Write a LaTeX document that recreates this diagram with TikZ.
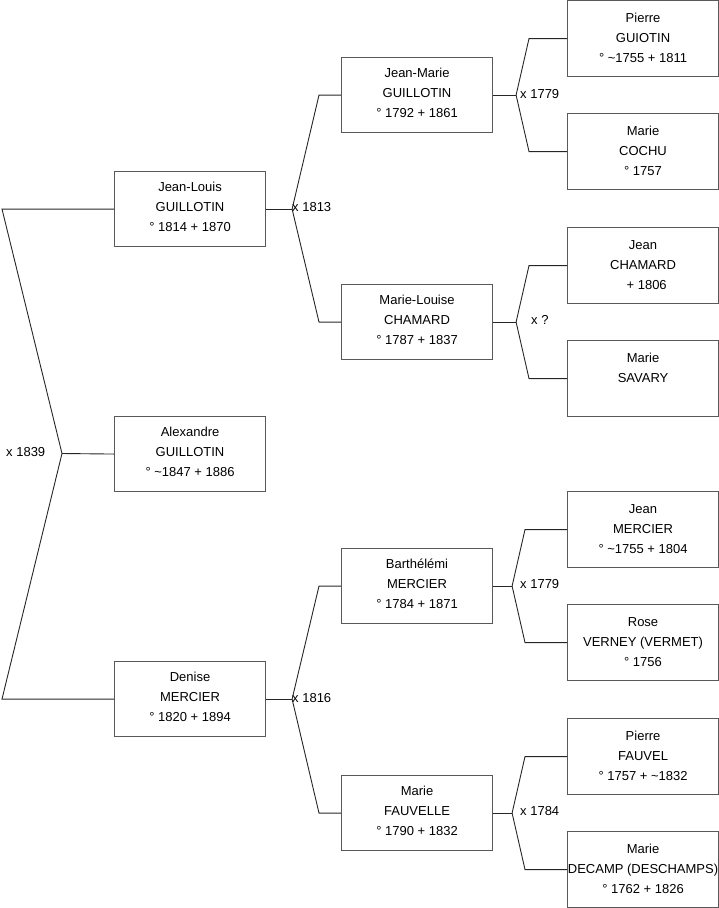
\documentclass[tikz,border=0pt]{standalone}
\usepackage{fontspec}
\setmainfont{Liberation Sans}
\usetikzlibrary{positioning}

\begin{document}
\begin{tikzpicture}[x=1pt, y=-1pt,
  person/.style={draw=black!65, line width=1.1pt, minimum width=151pt, minimum height=75pt,
    anchor=north west, align=center, inner sep=0pt, text depth=5pt,
    font=\fontsize{13}{20}\selectfont},
  elder/.style={person, minimum height=76pt, text depth=2pt},
  link/.style={draw=black!85, line width=0.9pt},
  wed/.style={anchor=west, inner sep=0pt, font=\fontsize{13}{20}\selectfont}]
\useasboundingbox (0,0) rectangle (719,908);

% ---------- generation 1 ----------
\node[person] (jeanlouis) at (114,171) {Jean-Louis\\GUILLOTIN\\° 1814 + 1870};
\node[person] (alexandre) at (114,416) {Alexandre\\GUILLOTIN\\° \textasciitilde1847 + 1886};
\node[person] (denise)    at (114,661) {Denise\\MERCIER\\° 1820 + 1894};

% ---------- generation 2 ----------
\node[person] (jeanmarie)     at (341,57)  {Jean-Marie\\GUILLOTIN\\° 1792 + 1861};
\node[person] (marielouise)   at (341,284) {Marie-Louise\\CHAMARD\\° 1787 + 1837};
\node[person] (barthelemi)    at (341,548) {Barthélémi\\MERCIER\\° 1784 + 1871};
\node[person] (mariefauvelle) at (341,775) {Marie\\FAUVELLE\\° 1790 + 1832};

% ---------- generation 3 ----------
\node[elder] (pierreguiotin) at (567,0)   {Pierre\\GUIOTIN\\° \textasciitilde1755 + 1811};
\node[elder] (mariecochu)    at (567,113) {Marie\\COCHU\\° 1757};
\node[elder] (jeanchamard)   at (567,227) {Jean\\CHAMARD\\\ \ + 1806};
\node[elder] (mariesavary)   at (567,340) {Marie\\SAVARY\\\strut};
\node[elder] (jeanmercier)   at (567,491) {Jean\\MERCIER\\° \textasciitilde1755 + 1804};
\node[elder] (roseverney)    at (567,604) {Rose\\VERNEY (VERMET)\\° 1756};
\node[elder] (pierrefauvel)  at (567,718) {Pierre\\FAUVEL\\° 1757 + \textasciitilde1832};
\node[elder] (mariedecamp)   at (567,831) {Marie\\DECAMP (DESCHAMPS)\\° 1762 + 1826};

% ---------- fork vertices ----------
\coordinate (m1839) at (62,453.5);
\path (jeanlouis.east)     ++(26,0) coordinate (m1813);
\path (denise.east)        ++(26,0) coordinate (m1816);
\path (jeanmarie.east)     ++(23,0) coordinate (m1779a);
\path (marielouise.east)   ++(23,0) coordinate (munk);
\path (barthelemi.east)    ++(19,0) coordinate (m1779b);
\path (mariefauvelle.east) ++(19,0) coordinate (m1784);

% ---------- forks ----------
\draw[link] (jeanlouis.west) -- ++(-112,0) -- (m1839);
\draw[link] (denise.west) -- ++(-112,0) -- (m1839);
\draw[link] (alexandre.west) -- (m1839);

\draw[link] (jeanlouis.east) -- (m1813);
\draw[link] (jeanmarie.west) -- ++(-22,0) -- (m1813);
\draw[link] (marielouise.west) -- ++(-22,0) -- (m1813);

\draw[link] (denise.east) -- (m1816);
\draw[link] (barthelemi.west) -- ++(-22,0) -- (m1816);
\draw[link] (mariefauvelle.west) -- ++(-22,0) -- (m1816);

\draw[link] (jeanmarie.east) -- (m1779a);
\draw[link] (pierreguiotin.west) -- ++(-38,0) -- (m1779a);
\draw[link] (mariecochu.west) -- ++(-38,0) -- (m1779a);

\draw[link] (marielouise.east) -- (munk);
\draw[link] (jeanchamard.west) -- ++(-38,0) -- (munk);
\draw[link] (mariesavary.west) -- ++(-38,0) -- (munk);

\draw[link] (barthelemi.east) -- (m1779b);
\draw[link] (jeanmercier.west) -- ++(-42,0) -- (m1779b);
\draw[link] (roseverney.west) -- ++(-42,0) -- (m1779b);

\draw[link] (mariefauvelle.east) -- (m1784);
\draw[link] (pierrefauvel.west) -- ++(-42,0) -- (m1784);
\draw[link] (mariedecamp.west) -- ++(-42,0) -- (m1784);

% ---------- marriage labels ----------
\node[wed] (wed1839)  at (6,452)    {x 1839};
\node[wed] (wed1813)  at (292,207)  {x 1813};
\node[wed] (wed1816)  at (292,698)  {x 1816};
\node[wed] (wed1779a) at (520,94)   {x 1779};
\node[wed] (wedunk)   at (531,320)  {x ?};
\node[wed] (wed1779b) at (520,584)  {x 1779};
\node[wed] (wed1784)  at (520,811)  {x 1784};

\end{tikzpicture}
\end{document}
